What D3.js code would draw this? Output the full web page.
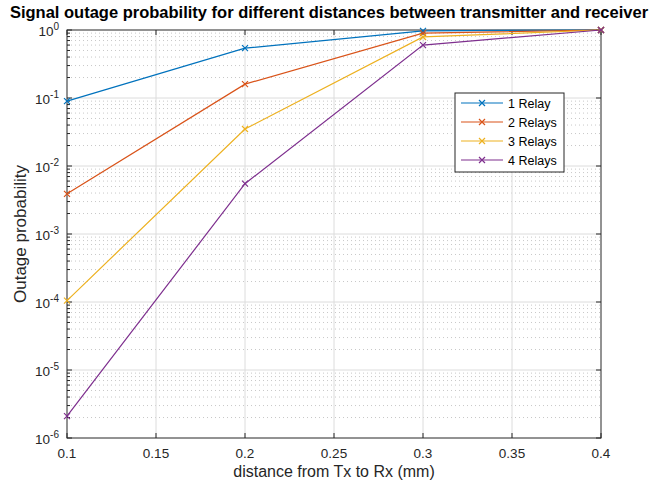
<!DOCTYPE html>
<html>
<head>
<meta charset="utf-8">
<script src="https://cdn.jsdelivr.net/npm/d3@7"></script>
<style>
  body { margin: 0; background: #fff; }
  svg { font-family: "Liberation Sans", Arial, sans-serif; }
</style>
</head>
<body>
<div id="chart"></div>
<script>
// distances (mm)
const distances = [0.1, 0.2, 0.3, 0.4];
const seriesNames = ['1 Relay', '2 Relays', '3 Relays', '4 Relays'];
const relay1 = [0.09, 0.54, 0.97, 1];
const relay2 = [0.0039, 0.16, 0.9, 1];
const relay3 = [1.05e-4, 0.035, 0.79, 1];
const relay4 = [2.1e-6, 0.0055, 0.6, 1];
const xTicks = [0.1, 0.15, 0.2, 0.25, 0.3, 0.35, 0.4];
const yExponents = [0, -1, -2, -3, -4, -5, -6];
const colors = ['#0072BD', '#D95319', '#EDB120', '#7E2F8E'];

const allSeries = [relay1, relay2, relay3, relay4];

const width = 654, height = 487;
const margin = { top: 30, right: 53, bottom: 49, left: 67 };

const svg = d3.select('#chart').append('svg')
    .attr('width', width)
    .attr('height', height);

const x = d3.scaleLinear().domain([0.1, 0.4]).range([margin.left, width - margin.right]);
const y = d3.scaleLog().domain([1e-6, 1]).range([height - margin.bottom, margin.top]);

const gGrid = svg.append('g');

// minor grid (dotted)
let minorVals = [];
for (let e = -6; e < 0; e++) {
    for (let m = 2; m <= 9; m++) minorVals.push(m * Math.pow(10, e));
}
gGrid.selectAll('.minor').data(minorVals).join('line')
    .attr('x1', x.range()[0]).attr('x2', x.range()[1])
    .attr('y1', d => y(d)).attr('y2', d => y(d))
    .attr('stroke', '#c8c8c8')
    .attr('stroke-width', 1)
    .attr('stroke-dasharray', '1,3');

// major grid
gGrid.selectAll('.hmaj').data(yExponents.slice(1, -1)).join('line')
    .attr('x1', x.range()[0]).attr('x2', x.range()[1])
    .attr('y1', d => y(Math.pow(10, d))).attr('y2', d => y(Math.pow(10, d)))
    .attr('stroke', '#dcdcdc');
gGrid.selectAll('.vmaj').data(xTicks.slice(1, -1)).join('line')
    .attr('y1', y.range()[0]).attr('y2', y.range()[1])
    .attr('x1', d => x(d)).attr('x2', d => x(d))
    .attr('stroke', '#dcdcdc');

// box
svg.append('rect')
    .attr('x', margin.left).attr('y', margin.top)
    .attr('width', x.range()[1] - x.range()[0])
    .attr('height', y.range()[0] - y.range()[1])
    .attr('fill', 'none')
    .attr('stroke', '#262626')
    .attr('stroke-width', 1);

// ticks on axes
const tickLen = 5;
svg.append('g').selectAll('line').data(xTicks).join('line')
    .attr('x1', d => x(d)).attr('x2', d => x(d))
    .attr('y1', y.range()[0]).attr('y2', y.range()[0] - tickLen)
    .attr('stroke', '#262626');
svg.append('g').selectAll('line').data(xTicks).join('line')
    .attr('x1', d => x(d)).attr('x2', d => x(d))
    .attr('y1', y.range()[1]).attr('y2', y.range()[1] + tickLen)
    .attr('stroke', '#262626');
svg.append('g').selectAll('line').data(yExponents).join('line')
    .attr('x1', x.range()[0]).attr('x2', x.range()[0] + tickLen)
    .attr('y1', d => y(Math.pow(10, d))).attr('y2', d => y(Math.pow(10, d)))
    .attr('stroke', '#262626');
svg.append('g').selectAll('line').data(minorVals).join('line')
    .attr('x1', x.range()[0]).attr('x2', x.range()[0] + 3)
    .attr('y1', d => y(d)).attr('y2', d => y(d))
    .attr('stroke', '#262626');
svg.append('g').selectAll('line').data(yExponents).join('line')
    .attr('x1', x.range()[1]).attr('x2', x.range()[1] - tickLen)
    .attr('y1', d => y(Math.pow(10, d))).attr('y2', d => y(Math.pow(10, d)))
    .attr('stroke', '#262626');

// x tick labels
svg.append('g').selectAll('text').data(xTicks).join('text')
    .attr('x', d => x(d))
    .attr('y', y.range()[0] + 20)
    .attr('text-anchor', 'middle')
    .attr('font-size', 13.5)
    .attr('fill', '#262626')
    .text(d => d3.format('')(d));

// y tick labels 10^n
const yl = svg.append('g').selectAll('text').data(yExponents).join('text')
    .attr('x', margin.left - 8)
    .attr('y', d => y(Math.pow(10, d)) + 6)
    .attr('text-anchor', 'end')
    .attr('font-size', 13.5)
    .attr('fill', '#262626');
yl.append('tspan').text('10');
yl.append('tspan')
    .attr('dy', -6)
    .attr('font-size', 10)
    .text(d => d);

// axis titles
svg.append('text')
    .attr('x', (x.range()[0] + x.range()[1]) / 2)
    .attr('y', 477)
    .attr('text-anchor', 'middle')
    .attr('font-size', 16)
    .attr('fill', '#262626')
    .text('distance from Tx to Rx (mm)');

svg.append('text')
    .attr('transform', `translate(26,${(y.range()[0] + y.range()[1]) / 2}) rotate(-90)`)
    .attr('text-anchor', 'middle')
    .attr('font-size', 17)
    .attr('fill', '#262626')
    .text('Outage probability');

svg.append('text')
    .attr('x', 329)
    .attr('y', 18)
    .attr('text-anchor', 'middle')
    .attr('font-size', 16.5)
    .attr('font-weight', 'bold')
    .attr('fill', '#000')
    .text('Signal outage probability for different distances between transmitter and receiver');

// lines
const line = d3.line()
    .x((d, i) => x(distances[i]))
    .y(d => y(d));

const gLines = svg.append('g');
allSeries.forEach((s, k) => {
    gLines.append('path')
        .datum(s)
        .attr('d', line)
        .attr('fill', 'none')
        .attr('stroke', colors[k])
        .attr('stroke-width', 1.2);
    gLines.selectAll('.m' + k).data(s).join('path')
        .attr('transform', (d, i) => `translate(${x(distances[i])},${y(d)})`)
        .attr('d', 'M-3,-3L3,3M-3,3L3,-3')
        .attr('stroke', colors[k])
        .attr('stroke-width', 1.2);
});

// legend
const lg = svg.append('g').attr('transform', 'translate(455,93)');
lg.append('rect')
    .attr('width', 109).attr('height', 79)
    .attr('fill', '#fff')
    .attr('stroke', '#262626');
const items = lg.selectAll('g').data(seriesNames).join('g')
    .attr('transform', (d, i) => `translate(0,${10 + i * 19})`);
items.append('line')
    .attr('x1', 6).attr('x2', 48)
    .attr('stroke', (d, i) => colors[i])
    .attr('stroke-width', 1.2);
items.append('path')
    .attr('transform', 'translate(27,0)')
    .attr('d', 'M-3,-3L3,3M-3,3L3,-3')
    .attr('stroke', (d, i) => colors[i])
    .attr('stroke-width', 1.2);
items.append('text')
    .attr('x', 53).attr('y', 4.5)
    .attr('font-size', 12.5)
    .attr('fill', '#000')
    .text(d => d);
</script>
</body>
</html>
